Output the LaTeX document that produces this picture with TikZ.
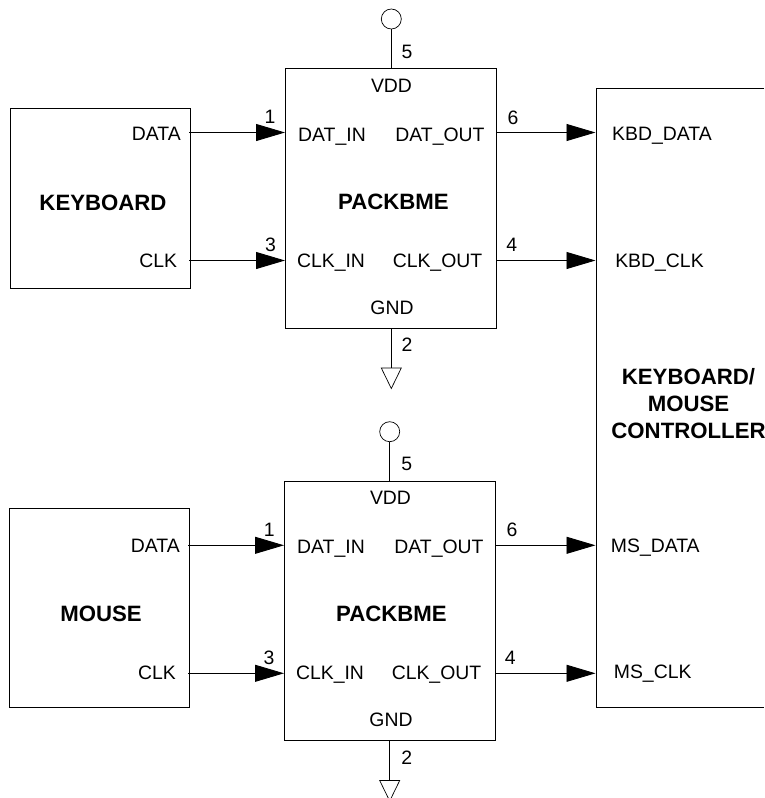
\documentclass[tikz,border=0pt]{standalone}
\usepackage{fontspec}
\setmainfont{Liberation Sans}
\usetikzlibrary{arrows.meta}
\tikzset{
  x=1pt,y=-1pt,
  wire/.style={line width=0.9pt,black},
  sig/.style={wire,-{Triangle[length=29pt,width=17pt]},shorten >=0.5pt},
  blockbox/.style={draw=black,line width=0.9pt,rectangle,inner sep=0pt,outer sep=0pt,anchor=north west},
  lab/.style={anchor=base,inner sep=0pt,font=\fontsize{19.4}{21}\selectfont},
  title/.style={anchor=base,inner sep=0pt,font=\fontsize{22.2}{24}\selectfont\bfseries},
  vccring/.style={circle,draw=black,line width=0.7pt,minimum size=20pt,inner sep=0pt,outer sep=0pt},
  gndtri/.style={draw=black,line width=0.7pt,line join=miter}
}
\begin{document}
\begin{tikzpicture}
\useasboundingbox (0,0) rectangle (764,798);
% blocks
\node[blockbox,minimum width=180pt,minimum height=179.5pt] (kb) at (10.5,108.5) {};
\node[blockbox,minimum width=180pt,minimum height=199pt] (ms) at (9.5,508.3) {};
\node[blockbox,minimum width=211pt,minimum height=259.5pt] (pa) at (285.5,68.5) {};
\node[blockbox,minimum width=211pt,minimum height=259.5pt] (pb) at (284.5,481) {};
\draw[wire] (764,88.4) coordinate (ctr) -- (596.5,88.4) -- (596.5,707.3) -- (764,707.3);
% pin ends
\coordinate (kd) at (189,132.5); \coordinate (kc) at (189,260.5);
\coordinate (ad) at (285.5,132.5); \coordinate (ac) at (285.5,260.5);
\coordinate (aod) at (496.5,132.5); \coordinate (aoc) at (496.5,260.5);
\coordinate (cad) at (596,132.5); \coordinate (cac) at (596,260.5);
\coordinate (md) at (188,545.3); \coordinate (mc) at (188,673.3);
\coordinate (bd) at (284.5,545.3); \coordinate (bc) at (284.5,673.3);
\coordinate (bod) at (495,545.3); \coordinate (boc) at (495,673.3);
\coordinate (cbd) at (596,545.3); \coordinate (cbc) at (596,673.3);
\draw[sig] (kd) -- (ad);
\draw[sig] (kc) -- (ac);
\draw[sig] (aod) -- (cad);
\draw[sig] (aoc) -- (cac);
\draw[sig] (md) -- (bd);
\draw[sig] (mc) -- (bc);
\draw[sig] (bod) -- (cbd);
\draw[sig] (boc) -- (cbc);
% supply and ground
\node[vccring] (va) at (391.3,19) {};
\node[vccring] (vb) at (389.7,431.7) {};
\draw[wire] (va.south) -- (va.south |- pa.north);
\draw[wire] (vb.south) -- (vb.south |- pb.north);
\coordinate (ga) at (391.3,368); \coordinate (gb) at (389.7,780.5);
\draw[wire] (ga |- pa.south) -- (ga);
\draw[wire] (gb |- pb.south) -- (gb);
\draw[gndtri] (381.3,368) -- (401.3,368) -- (391.3,388.5) -- cycle;
\draw[gndtri] (379.7,780.5) -- (399.7,780.5) -- (389.7,801) -- cycle;
% titles
\node[title] (tk) at (103,210) {KEYBOARD};
\node[title] (tm) at (101,621.5) {MOUSE};
\node[title] (tpa) at (393.5,209.5) {PACKBME};
\node[title] (tpb) at (391.5,621) {PACKBME};
\node[title] (tc1) at (688.5,384) {KEYBOARD/};
\node[title] (tc2) at (688.5,411.5) {MOUSE};
\node[title] (tc3) at (688.5,438.5) {CONTROLLER};
% upper labels
\node[lab] (l1) at (156.3,140) {DATA};
\node[lab] (l2) at (158.3,267) {CLK};
\node[lab] (l3) at (391.5,92) {VDD};
\node[lab] (l4) at (332,141) {DAT\_IN};
\node[lab] (l5) at (331,267) {CLK\_IN};
\node[lab] (l6) at (440,141) {DAT\_OUT};
\node[lab] (l7) at (437.5,267) {CLK\_OUT};
\node[lab] (l8) at (392,314) {GND};
\node[lab] (l9) at (662,140) {KBD\_DATA};
\node[lab] (l10) at (659.5,267) {KBD\_CLK};
\node[lab] (n1) at (270,123.3) {1};
\node[lab] (n3) at (270.5,251) {3};
\node[lab] (n5) at (407,58) {5};
\node[lab] (n2) at (407,351) {2};
\node[lab] (n6) at (513,124) {6};
\node[lab] (n4) at (511.7,251.3) {4};
% lower labels
\node[lab] (m1) at (155.3,552.7) {DATA};
\node[lab] (m2) at (157,679) {CLK};
\node[lab] (m3) at (390.5,504) {VDD};
\node[lab] (m4) at (331,553) {DAT\_IN};
\node[lab] (m5) at (330,679) {CLK\_IN};
\node[lab] (m6) at (439,553) {DAT\_OUT};
\node[lab] (m7) at (436.5,679) {CLK\_OUT};
\node[lab] (m8) at (391,726.7) {GND};
\node[lab] (m9) at (655.3,552.7) {MS\_DATA};
\node[lab] (m10) at (652.7,678.7) {MS\_CLK};
\node[lab] (k1) at (269.3,536) {1};
\node[lab] (k3) at (269,664) {3};
\node[lab] (k5) at (406.7,470.7) {5};
\node[lab] (k2) at (406.7,764) {2};
\node[lab] (k6) at (512,536.7) {6};
\node[lab] (k4) at (510.3,664) {4};
\end{tikzpicture}
\end{document}
